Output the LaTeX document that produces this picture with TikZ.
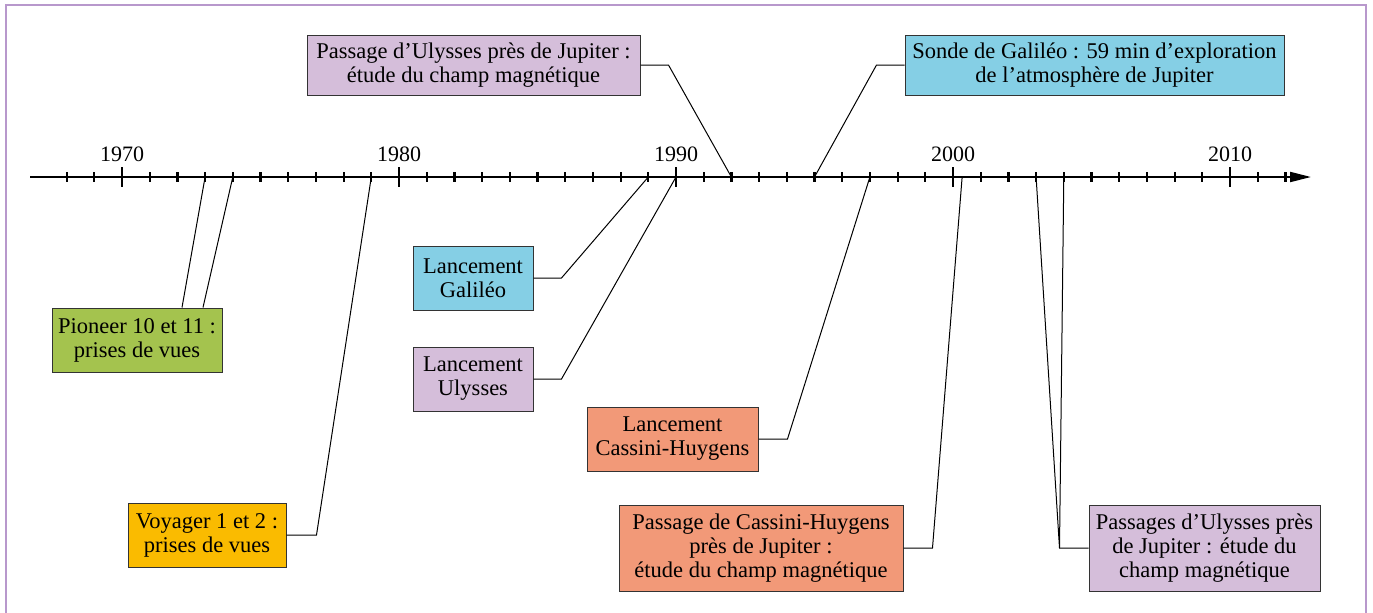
\documentclass[tikz,border=0pt]{standalone}
\usepackage{fontspec}
\setmainfont{Liberation Serif}
\usetikzlibrary{arrows.meta}
\definecolor{cadre}{RGB}{184,152,204}
\definecolor{violet}{RGB}{213,190,218}
\definecolor{bleu}{RGB}{133,207,229}
\definecolor{vert}{RGB}{164,195,78}
\definecolor{jaune}{RGB}{250,187,0}
\definecolor{saumon}{RGB}{242,153,120}

\begin{document}
\begin{tikzpicture}[x=0.5pt,y=-0.5pt,
	boite/.style={draw=black!80,line width=0.5pt,align=center,inner sep=0pt,
		font=\fontsize{11.25}{12}\selectfont},
	lien/.style={line width=0.5pt},
	annee/.style={anchor=base,font=\fontsize{11}{12}\selectfont}]
\useasboundingbox (0,0) rectangle (1373,612);
\draw[cadre,line width=1pt] (6,620) -- (6,5) -- (1366,5) -- (1366,620);

\draw[line width=1pt,-{Triangle[length=10.5pt,width=5pt]}] (30,177) -- (1311,177);
\foreach \a in {1968,...,2012}{
	\coordinate (t\a) at ({122+(\a-1970)*27.7},177);
	\draw[line width=1.1pt] (t\a) ++(0,-5) -- ++(0,10);
}
\foreach \a in {1970,1980,...,2010}{
	\draw[line width=1.3pt] (t\a) ++(0,-10) -- ++(0,20);
	\path (t\a) ++(0,-16) node[annee] {\a};
}
\coordinate (t2000b) at ({122+30.33*27.7},177);

\node[boite,fill=violet,minimum width=166.5pt,minimum height=30pt] (ulyP) at (473.5,65)
	{Passage d'Ulysses près de Jupiter :\\ étude du champ magnétique};
\node[boite,fill=bleu,minimum width=189.5pt,minimum height=30pt] (galS) at (1094.5,65)
	{Sonde de Galiléo : 59 min d'exploration\\ de l'atmosphère de Jupiter};
\node[boite,fill=bleu,minimum width=60pt,minimum height=32pt] (galL) at (473,278)
	{Lancement\\ Galiléo};
\node[boite,fill=violet,minimum width=60pt,minimum height=32pt] (ulyL) at (473,379)
	{Lancement\\ Ulysses};
\node[boite,fill=vert,minimum width=85pt,minimum height=32pt] (pio) at (137,340)
	{Pioneer 10 et 11 :\\ prises de vues};
\node[boite,fill=jaune,minimum width=79pt,minimum height=32pt] (voy) at (207,535)
	{Voyager 1 et 2 :\\ prises de vues};
\node[boite,fill=saumon,minimum width=85.5pt,minimum height=32pt] (casL) at (672.5,439)
	{Lancement\\ Cassini-Huygens};
\node[boite,fill=saumon,minimum width=142pt,minimum height=43pt] (casP) at (761,548)
	{Passage de Cassini-Huygens\\ près de Jupiter :\\ étude du champ magnétique};
\node[boite,fill=violet,minimum width=115.5pt,minimum height=43pt] (ulyPs) at (1204.5,548)
	{Passages d'Ulysses près\\ de Jupiter : étude du\\ champ magnétique};

\draw[lien] (ulyP.east) -- ++(28,0) -- (t1992);
\draw[lien] (galS.west) -- ++(-28,0) -- (t1995);
\draw[lien] (galL.east) -- ++(28,0) -- (t1989);
\draw[lien] (ulyL.east) -- ++(28,0) -- (t1990);
\draw[lien] ([xshift=22.5pt]pio.north) -- (t1973);
\draw[lien] ([xshift=33pt]pio.north) -- (t1974);
\draw[lien] (voy.east) -- ++(30,0) -- (t1979);
\draw[lien] (casL.east) -- ++(29,0) -- (t1997);
\draw[lien] (casP.east) -- ++(29,0) -- (t2000b);
\draw[lien] (ulyPs.west) -- ++(-29,0) coordinate (c) -- (t2003);
\draw[lien] (c) -- (t2004);
\end{tikzpicture}
\end{document}
